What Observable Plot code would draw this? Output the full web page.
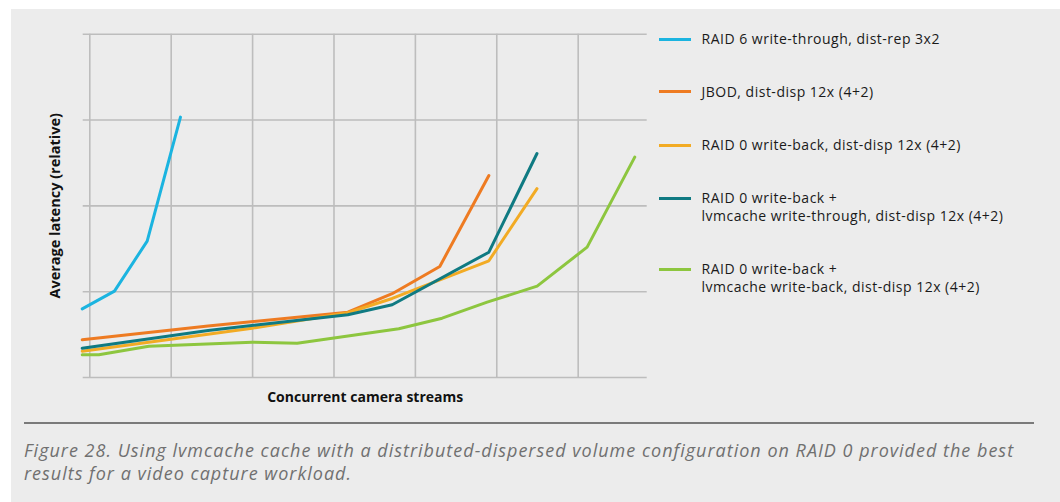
<!DOCTYPE html>
<html>
<head>
<meta charset="utf-8">
<script src="https://cdn.jsdelivr.net/npm/d3@7"></script>
<script src="https://cdn.jsdelivr.net/npm/@observablehq/plot@0.6"></script>
<style>
  html, body { margin: 0; padding: 0; background: #ffffff; }
  #panel { position: absolute; left: 11px; top: 9px; width: 1049px; height: 493px; background: #ececec; font-family: "Open Sans", sans-serif; }
  #chart { position: absolute; left: 0; top: 0; }
  #legend { position: absolute; left: 0; top: 0; }
  .item { position: absolute; font-size: 14px; letter-spacing: 0.5px; color: #1a1a1a; line-height: 17.7px; white-space: nowrap; }
  .sw { position: absolute; width: 32px; height: 3px; }
  #rule { position: absolute; left: 13px; top: 413px; width: 1010px; height: 2px; background: #7a7a7a; }
  #caption { position: absolute; left: 13px; top: 430px; width: 1030px; font-size: 18px; font-style: italic; color: #707070; line-height: 23px; letter-spacing: 1px; }
</style>
</head>
<body>
<div id="panel">
  <div id="chart"></div>
  <div id="legend"></div>
  <div id="rule"></div>
  <div id="caption"></div>
</div>
<script>
// ---- data (x: position in grid units of 10 per vertical gridline; y: relative latency, 10 per horizontal gridline)
const seriesNames = [
  "RAID 6 write-through, dist-rep 3x2",
  "JBOD, dist-disp 12x (4+2)",
  "RAID 0 write-back, dist-disp 12x (4+2)",
  "RAID 0 write-back +\nlvmcache write-through, dist-disp 12x (4+2)",
  "RAID 0 write-back +\nlvmcache write-back, dist-disp 12x (4+2)"
];
const seriesColors = ["#1bb4e0", "#ee7b22", "#f2ab24", "#0f7a82", "#8dc63f"];

const raid6X = [-0.93, 3.03, 7.05, 11.14];
const raid6Y = [8.0, 10.06, 15.89, 30.34];

const jbodX = [-0.93, 14.53, 31.7, 37.15, 43.0, 49.03];
const jbodY = [4.39, 6.0, 7.61, 9.76, 12.94, 23.54];

const raid0X = [-0.93, 19.95, 31.7, 37.15, 49.03, 54.94];
const raid0Y = [3.07, 5.75, 7.55, 9.21, 13.6, 22.0];

const lvmThroughX = [-0.93, 14.53, 31.7, 37.15, 49.03, 54.94];
const lvmThroughY = [3.41, 5.48, 7.31, 8.47, 14.6, 26.1];

const lvmBackX = [-0.93, 1.11, 7.25, 19.95, 25.48, 37.96, 43.29, 48.82, 54.96, 61.1, 66.95];
const lvmBackY = [2.65, 2.65, 3.65, 4.11, 4.0, 5.68, 6.91, 8.78, 10.64, 15.19, 25.68];

const xGrid = [0, 10, 20, 30, 40, 50, 60];
const yGrid = [0, 10, 20, 30, 40];

const xTitle = "Concurrent camera streams";
const yTitle = "Average latency (relative)";
const captionText = "Figure 28. Using lvmcache cache with a distributed-dispersed volume configuration on RAID 0 provided the best results for a video capture workload.";

// ---- build table
const seriesXs = [raid6X, jbodX, raid0X, lvmThroughX, lvmBackX];
const seriesYs = [raid6Y, jbodY, raid0Y, lvmThroughY, lvmBackY];
const rows = [];
seriesNames.forEach((name, i) => {
  seriesXs[i].forEach((x, j) => rows.push({series: name, x, y: seriesYs[i][j]}));
});

const gridColor = "#bdbdbd";

const chart = Plot.plot({
  width: 640,
  height: 400,
  marginLeft: 71.7,
  marginRight: 4.3,
  marginTop: 24.7,
  marginBottom: 32,
  style: {background: "transparent", overflow: "visible", fontFamily: "'Open Sans', sans-serif"},
  x: {domain: [-0.81, 68.48], axis: null},
  y: {domain: [0, 40], axis: null},
  color: {domain: seriesNames, range: seriesColors},
  marks: [
    Plot.ruleX(xGrid, {stroke: gridColor, strokeWidth: 1.6}),
    Plot.ruleY(yGrid, {stroke: gridColor, strokeWidth: 1.6}),
    Plot.line(rows, {x: "x", y: "y", z: "series", stroke: "series", strokeWidth: 3, strokeLinejoin: "round", strokeLinecap: "round"}),
    Plot.text([xTitle], {text: d => d, frameAnchor: "bottom", textAnchor: "middle", dy: 24, fontSize: 14, fontWeight: "bold", fill: "#111"}),
    Plot.text([yTitle], {text: d => d, frameAnchor: "left", textAnchor: "middle", rotate: -90, dx: -28, fontSize: 14.5, fontWeight: "bold", fill: "#111"})
  ]
});
document.getElementById("chart").appendChild(chart);

// ---- legend
const legend = document.getElementById("legend");
const legendTops = [21.15, 73.85, 127.15, 180.45, 251.45];
seriesNames.forEach((name, i) => {
  const sw = document.createElement("div");
  sw.className = "sw";
  sw.style.left = (659 - 11) + "px";
  sw.style.top = (legendTops[i] + 8.85 - 1.5) + "px";
  sw.style.background = seriesColors[i];
  legend.appendChild(sw);
  const t = document.createElement("div");
  t.className = "item";
  t.style.left = (701.5 - 11) + "px";
  t.style.top = legendTops[i] + "px";
  name.split("\n").forEach((line, k) => {
    if (k) t.appendChild(document.createElement("br"));
    t.appendChild(document.createTextNode(line));
  });
  legend.appendChild(t);
});

document.getElementById("caption").textContent = captionText;
</script>
</body>
</html>
